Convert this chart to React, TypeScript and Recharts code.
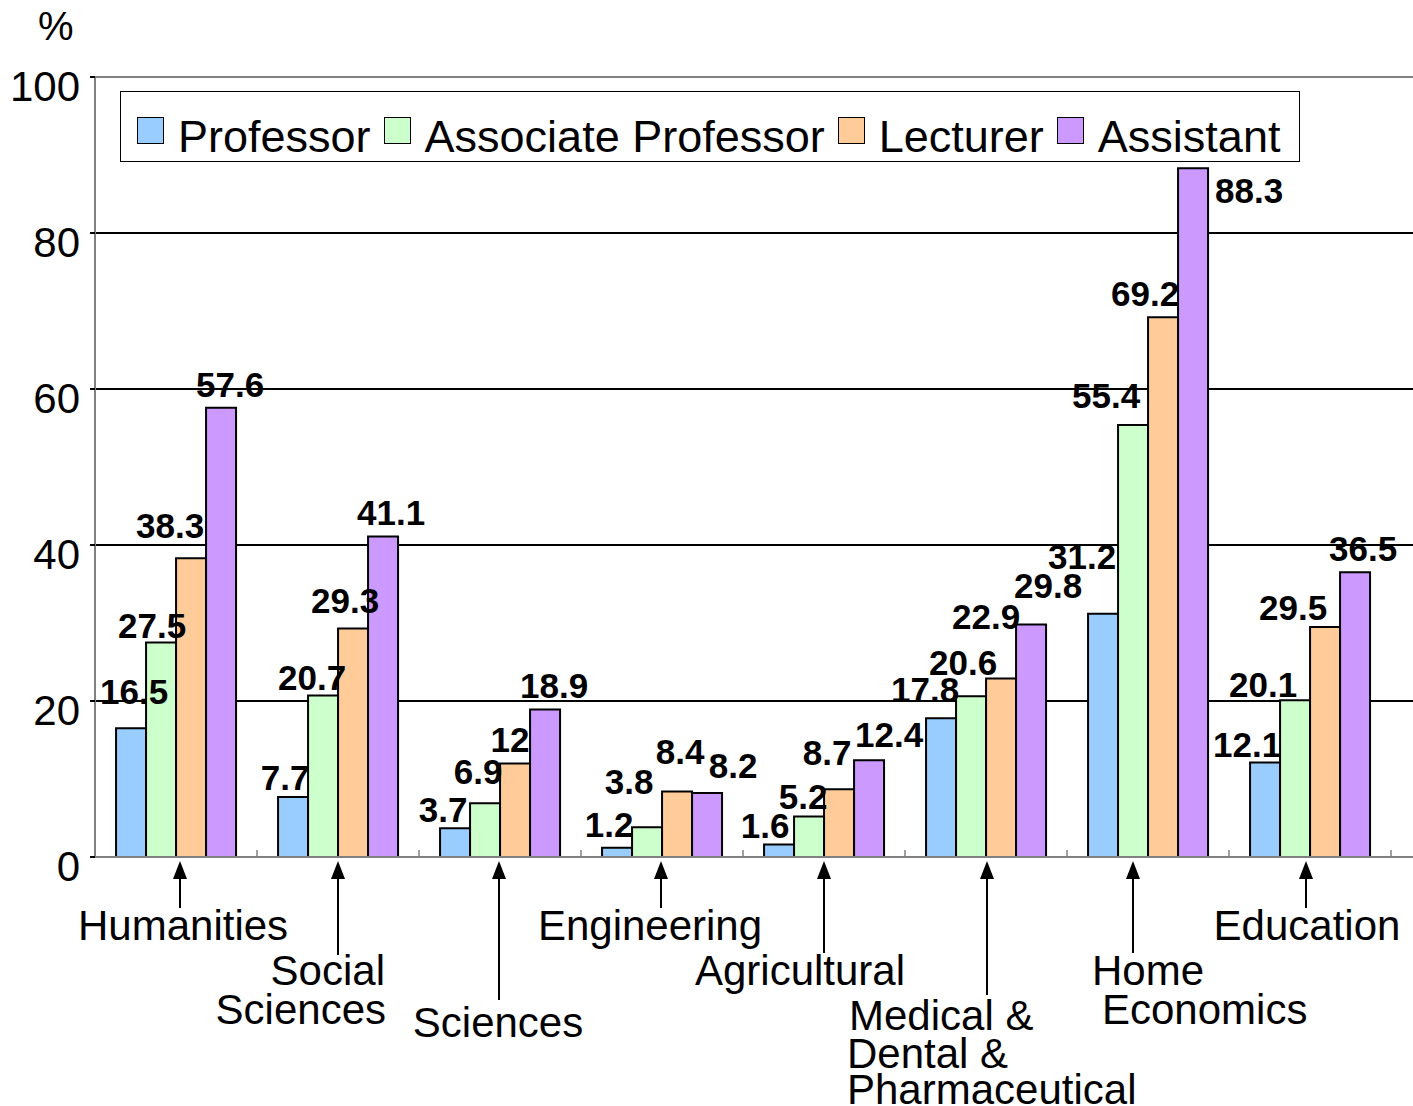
import React from 'react';
import { BarChart, Bar, XAxis, YAxis, CartesianGrid, Legend, LabelList, ReferenceLine } from 'recharts';

const categories = [
  'Humanities',
  'Social Sciences',
  'Sciences',
  'Engineering',
  'Agricultural',
  'Medical & Dental & Pharmaceutical',
  'Home Economics',
  'Education',
];

// tick labels as drawn under the axis (line breaks)
const tickLines = [
  ['Humanities'],
  ['Social', 'Sciences'],
  ['Sciences'],
  ['Engineering'],
  ['Agricultural'],
  ['Medical &', 'Dental &', 'Pharmaceutical'],
  ['Home', 'Economics'],
  ['Education'],
];

const professor = [16.5, 7.7, 3.7, 1.2, 1.6, 17.8, 31.2, 12.1];
const associate = [27.5, 20.7, 6.9, 3.8, 5.2, 20.6, 55.4, 20.1];
const lecturer = [38.3, 29.3, 12, 8.4, 8.7, 22.9, 69.2, 29.5];
const assistant = [57.6, 41.1, 18.9, 8.2, 12.4, 29.8, 88.3, 36.5];

const yTicks = [0, 20, 40, 60, 80, 100];

const data = categories.map((name, i) => ({
  name,
  professor: professor[i],
  associate: associate[i],
  lecturer: lecturer[i],
  assistant: assistant[i],
}));

// hand placed value labels: [dx from bar centre, dy from bar top]
const nudges: Record<string, number[][]> = {
  professor: [[3, -24], [-8, -7], [-12, -6], [-8, -11], [-14, -7], [-16, -16], [-21, -45], [-18, -6]],
  associate: [[-9, -5], [-11, -6], [-7, -19], [-18, -33], [-6, -7], [-8, -21], [-27, -17], [-32, -3]],
  lecturer: [[-21, -20], [-8, -15], [-5, -11], [3, -27], [-12, -24], [-15, -49], [-18, -11], [-32, -7]],
  assistant: [[9, -11], [8, -11], [9, -12], [26, -15], [20, -13], [17, -27], [56, 35], [8, -11]],
};

// where each category caption sits relative to the tick
const tickLayout = [
  { anchor: 'start', dx: [-98], dy: [83], arrowTo: 51, arrowDx: 4 },
  { anchor: 'end', dx: [47, 48], dy: [128, 167], arrowTo: 98, arrowDx: 0 },
  { anchor: 'middle', dx: [-2], dy: [180], arrowTo: 143, arrowDx: -1 },
  { anchor: 'middle', dx: [-12], dy: [83], arrowTo: 51, arrowDx: -1 },
  { anchor: 'middle', dx: [-24], dy: [128], arrowTo: 96, arrowDx: 0 },
  { anchor: 'start', dx: [-137, -139, -139], dy: [173, 211, 247], arrowTo: 138, arrowDx: 1 },
  { anchor: 'start', dx: [-56, -46], dy: [128, 167], arrowTo: 96, arrowDx: -15 },
  { anchor: 'middle', dx: [-3], dy: [83], arrowTo: 51, arrowDx: -4 },
];

const series = [
  { key: 'professor', name: 'Professor', color: '#99CCFF' },
  { key: 'associate', name: 'Associate Professor', color: '#CCFFCC' },
  { key: 'lecturer', name: 'Lecturer', color: '#FFCC99' },
  { key: 'assistant', name: 'Assistant', color: '#CC99FF' },
];

const FONT = "'Liberation Sans', Arial, sans-serif";

const CategoryTick = (props: any) => {
  const { x, y, index, payload } = props;
  const lay = tickLayout[index];
  const half = payload && payload.offset ? payload.offset : 81;
  const ax = x + lay.arrowDx;
  return (
    <g>
      <line x1={x + half} x2={x + half} y1={y} y2={y - 7} stroke="#808080" strokeWidth={1.5} />
      <polygon points={`${ax},${y + 4} ${ax - 7},${y + 22} ${ax + 7},${y + 22}`} fill="#000" />
      <line x1={ax} x2={ax} y1={y + 20} y2={y + lay.arrowTo} stroke="#000" strokeWidth={2} />
      {tickLines[index].map((t, j) => (
        <text
          key={j}
          x={x + lay.dx[j]}
          y={y + lay.dy[j]}
          textAnchor={lay.anchor as any}
          fontSize={42}
          fontFamily={FONT}
          fill="#000"
        >
          {t}
        </text>
      ))}
    </g>
  );
};

const ValueTick = (props: any) => {
  const { x, y, payload } = props;
  return (
    <text x={x} y={y + 9} textAnchor="end" dominantBaseline="central" fontSize={42} fontFamily={FONT} fill="#000">
      {payload.value}
    </text>
  );
};

const makeLabel = (key: string) => (props: any) => {
  const { x, y, width, value, index } = props;
  const [dx, dy] = nudges[key][index];
  return (
    <text
      x={x + width / 2 + dx}
      y={y + dy}
      textAnchor="middle"
      fontSize={35}
      fontWeight="bold"
      fontFamily={FONT}
      fill="#000"
    >
      {value}
    </text>
  );
};

const LegendBox = () => (
  <div
    style={{
      display: 'flex',
      alignItems: 'flex-start',
      boxSizing: 'border-box',
      height: 71,
      border: '1px solid #000',
      background: '#fff',
      paddingTop: 19,
      paddingLeft: 16,
      fontFamily: FONT,
      fontSize: 45,
      lineHeight: 'normal',
      color: '#000',
    }}
  >
    {series.map((s) => (
      <div key={s.key} style={{ display: 'flex', alignItems: 'flex-start', marginRight: 13 }}>
        <div
          style={{
            width: 27,
            height: 27,
            marginTop: 6,
            marginRight: 14,
            boxSizing: 'border-box',
            border: '1.5px solid #000',
            background: s.color,
          }}
        />
        <span style={{ whiteSpace: 'nowrap' }}>{s.name}</span>
      </div>
    ))}
  </div>
);

const App: React.FC = () => {
  return (
    <div
      style={{
        position: 'absolute',
        left: 0,
        top: 0,
        width: 1413,
        height: 1106,
        overflow: 'hidden',
        background: '#fff',
        fontFamily: FONT,
      }}
    >
      <div style={{ position: 'absolute', left: 38, top: 4, fontSize: 40, fontFamily: FONT, color: '#000' }}>%</div>
      <BarChart
        width={1413}
        height={1106}
        data={data}
        margin={{ top: 77, right: 0, left: 0, bottom: 0 }}
        barCategoryGap="13%"
        barGap={0}
      >
        <CartesianGrid horizontalValues={[20, 40, 60, 80]} vertical={false} stroke="#000" strokeWidth={2} />
        <ReferenceLine y={100} stroke="#808080" strokeWidth={2} />
        <XAxis
          dataKey="name"
          axisLine={{ stroke: '#808080', strokeWidth: 2 }}
          tickLine={false}
          tickSize={0}
          tickMargin={0}
          height={249}
          interval={0}
          padding={{ left: 0, right: 22 }}
          tick={<CategoryTick />}
        />
        <YAxis
          width={95}
          domain={[0, 100]}
          ticks={yTicks}
          interval={0}
          axisLine={{ stroke: '#808080', strokeWidth: 2 }}
          tickLine={{ stroke: '#000', strokeWidth: 2 }}
          tickSize={5}
          tickMargin={10}
          tick={<ValueTick />}
        />
        <Legend
          layout="horizontal"
          verticalAlign="middle"
          align="center"
          wrapperStyle={{ top: 91, left: 120, width: 1180 }}
          content={<LegendBox />}
        />
        {series.map((s) => (
          <Bar
            key={s.key}
            dataKey={s.key}
            name={s.name}
            fill={s.color}
            stroke="#000"
            strokeWidth={2}
            isAnimationActive={false}
          >
            <LabelList dataKey={s.key} content={makeLabel(s.key)} />
          </Bar>
        ))}
      </BarChart>
    </div>
  );
};

export default App;
